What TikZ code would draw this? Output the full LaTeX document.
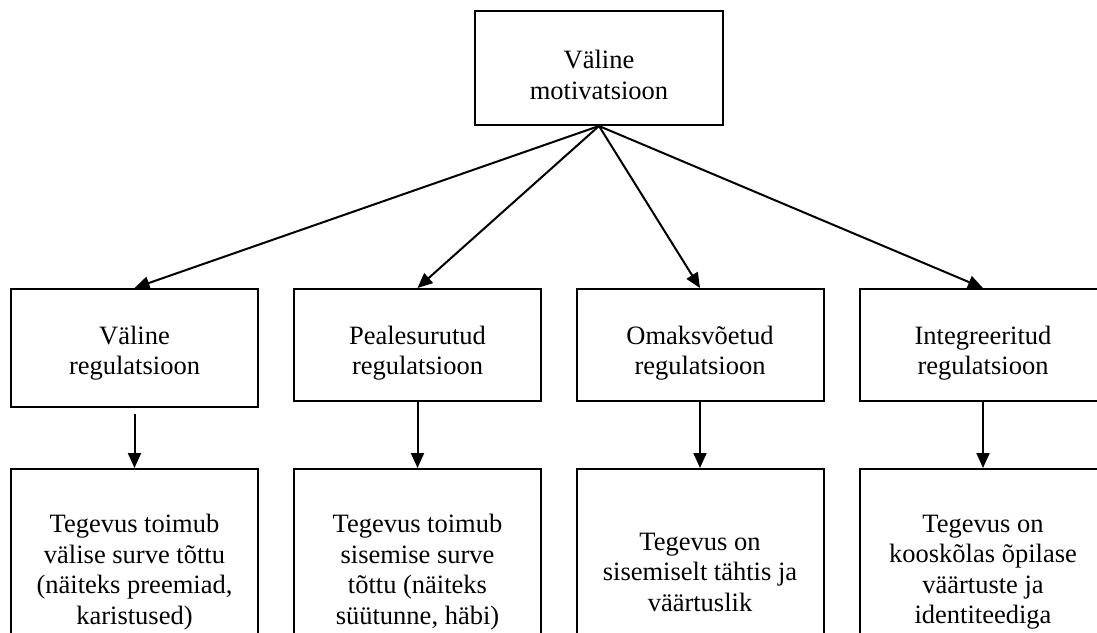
\documentclass[tikz,border=0pt]{standalone}
\usepackage{fontspec}
\setmainfont{Liberation Serif}
\usetikzlibrary{arrows.meta}
\begin{document}
\begin{tikzpicture}[x=1pt,y=-1pt,
  box/.style={draw,line width=2pt,inner sep=0pt,align=center,minimum width=247pt,
    font=\fontsize{26.5}{30.5}\selectfont},
  txt/.style={inner sep=0pt,align=center,font=\fontsize{26.5}{30.5}\selectfont},
  conn/.style={line width=2pt,-{Triangle[length=15pt,width=13pt]}}]
\useasboundingbox (0,0) rectangle (1097,632);
\clip (0,0) rectangle (1097,632);
\fill[white] (0,0) rectangle (1097,632);
\node[box,minimum width=248pt,minimum height=114pt] (top) at (599,68) {};
\node[txt] (toptxt) at (599,75) {Väline\\motivatsioon};
\node[box,minimum height=118pt] (m1) at (134.5,348) {};
\node[box,minimum height=112pt] (m2) at (417.5,345) {};
\node[box,minimum height=112pt] (m3) at (700,345) {};
\node[box,minimum height=112pt] (m4) at (983,345) {};
\node[txt] (m1txt) at (134.5,353) {Väline\\regulatsioon};
\node[txt] (m2txt) at (417.5,353) {Pealesurutud\\regulatsioon};
\node[txt] (m3txt) at (700,353) {Omaksvõetud\\regulatsioon};
\node[txt] (m4txt) at (983,353) {Integreeritud\\regulatsioon};
\node[box,minimum height=206pt] (b1) at (134.5,572) {Tegevus toimub\\välise surve tõttu\\(näiteks preemiad,\\karistused)};
\node[box,minimum height=206pt] (b2) at (417.5,572) {Tegevus toimub\\sisemise surve\\tõttu (näiteks\\süütunne, häbi)};
\node[box,minimum height=206pt] (b3) at (700,572) {Tegevus on\\sisemiselt tähtis ja\\väärtuslik};
\node[box,minimum height=206pt] (b4) at (983,572) {Tegevus on\\kooskõlas õpilase\\väärtuste ja\\identiteediga};
\foreach \i in {1,2,3,4} \draw[conn] (top.south) -- (m\i.north);
\draw[conn] ([yshift=-6pt]m1.south) -- (b1.north);
\foreach \i in {2,3,4} \draw[conn] (m\i.south) -- (b\i.north);
\end{tikzpicture}
\end{document}
